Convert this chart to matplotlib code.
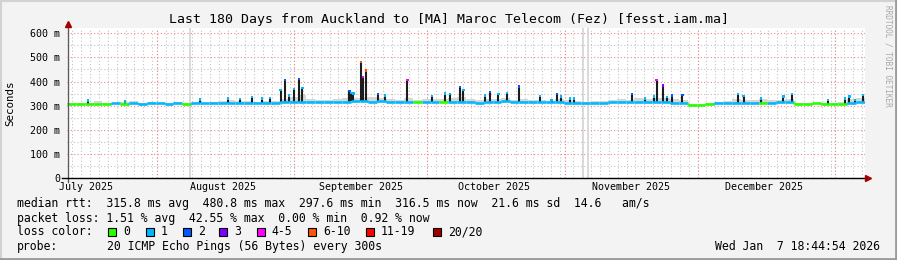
import datetime as dt
import numpy as np
import matplotlib
matplotlib.use("Agg")
from matplotlib import pyplot as plt
from matplotlib import dates as mdates
from matplotlib.patches import Rectangle
from matplotlib.lines import Line2D

START = dt.datetime(2025, 7, 11, 18, 44, 54)
END = dt.datetime(2026, 1, 7, 18, 44, 54)

# median rtt (ms), one sample every 2 days from START
median_day = list(range(0, 180, 2))
median_ms = [306, 307, 305, 308, 306,
             309, 308, 309, 308, 310,
             309, 307, 309, 308, 310,
             309, 311, 310, 312, 311,
             312, 310, 313, 312, 314,
             315, 316, 314, 316, 317,
             316, 317, 318, 319, 317,
             318, 316, 317, 315, 317,
             314, 316, 315, 317, 316,
             314, 313, 316, 315, 318,
             316, 317, 315, 316, 314,
             316, 313, 312, 310, 311,
             313, 314, 316, 315, 317,
             315, 316, 315, 313, 310,
             304, 304, 306, 309, 310,
             311, 313, 313, 312, 313,
             314, 314, 308, 308, 309,
             308, 308, 308, 313, 316]
# loss class per sample (index into loss_labels)
median_loss = [0, 0, 0, 0, 0,
               1, 0, 1, 1, 1,
               1, 1, 1, 0, 1,
               1, 1, 1, 1, 1,
               1, 1, 1, 1, 1,
               1, 1, 1, 1, 1,
               1, 1, 1, 1, 1,
               1, 1, 1, 1, 0,
               1, 1, 0, 1, 1,
               1, 1, 1, 1, 1,
               1, 1, 1, 1, 1,
               1, 1, 1, 1, 1,
               1, 1, 1, 1, 1,
               1, 1, 1, 1, 1,
               0, 0, 0, 1, 1,
               1, 1, 1, 0, 1,
               1, 1, 0, 0, 0,
               0, 0, 0, 1, 1]
# upper edge of the light smoke (ms)
smoke_ms = [310, 312, 310, 318, 310,
            312, 314, 318, 312, 314,
            313, 310, 314, 312, 314,
            312, 316, 320, 322, 321,
            320, 316, 320, 318, 326,
            335, 345, 326, 322, 322,
            326, 330, 332, 336, 334,
            330, 326, 325, 330, 322,
            326, 328, 326, 330, 334,
            326, 322, 328, 326, 330,
            324, 326, 322, 324, 321,
            326, 322, 320, 316, 318,
            320, 322, 326, 324, 330,
            326, 330, 332, 326, 324,
            306, 307, 309, 315, 318,
            326, 324, 322, 326, 322,
            324, 326, 310, 309, 310,
            310, 310, 314, 326, 330]

spike_day = [4.7, 13.1, 30.0, 36.3, 39.0, 41.7, 44.0, 45.8,
             48.2, 49.2, 50.1, 51.2, 52.3, 53.1, 63.7, 64.1, 64.6, 66.3,
             66.8, 67.4, 70.1, 71.7, 76.8, 82.3, 85.3, 86.4, 88.7, 89.4,
             94.3, 95.4, 97.3, 99.3, 102.0, 106.7, 109.3, 110.5, 111.4, 113.5,
             114.4, 127.4, 130.4, 132.4, 133.0, 134.4, 135.4, 136.5, 138.8, 151.4,
             152.6, 156.5, 161.6, 163.5, 171.6, 175.5, 176.5, 177.8, 179.5]
spike_ms = [322, 318, 325, 330, 328, 335, 330, 332,
            366, 407, 342, 370, 411, 374, 360, 352, 350, 480,
            418, 445, 349, 342, 407, 340, 350, 348, 377, 366,
            342, 356, 349, 352, 380, 340, 324, 349, 338, 330,
            330, 349, 330, 338, 407, 384, 336, 342, 345, 349,
            340, 330, 338, 349, 324, 330, 338, 324, 345]
spike_loss = [1, 1, 1, 1, 1, 1, 1, 1,
              1, 2, 1, 1, 2, 1, 2, 1, 1, 5,
              4, 5, 2, 1, 4, 1, 1, 1, 2, 1,
              1, 2, 1, 1, 2, 1, 1, 2, 1, 1,
              1, 2, 1, 1, 4, 3, 1, 2, 2, 1,
              1, 1, 1, 1, 1, 1, 1, 1, 1]

gap_day = [27.8, 116.4, 117.5]

loss_labels = ['0', '1', '2', '3', '4-5', '6-10', '11-19', '20/20']
loss_colors = ['#26ff00', '#00b8ff', '#0059ff', '#7e00ff', '#ff00ff',
               '#ff5500', '#ff0000', '#a10000']

title = "Last 180 Days from Auckland to [MA] Maroc Telecom (Fez) [fesst.iam.ma]"
legend_rows = [
    "median rtt:  315.8 ms avg  480.8 ms max  297.6 ms min  316.5 ms now  21.6 ms sd  14.6   am/s",
    "packet loss: 1.51 % avg  42.55 % max  0.00 % min  0.92 % now",
]
probe_text = "20 ICMP Echo Pings (56 Bytes) every 300s"
stamp = "Wed Jan  7 18:44:54 2026"

MONO = 'DejaVu Sans Mono'
W, H = 897, 260


def fx(px):
    return px / W


def fy(py):
    return 1 - py / H


def main():
    t0 = mdates.date2num(START)
    t1 = mdates.date2num(END)

    fig = plt.figure(figsize=(W / 100, H / 100), dpi=100, facecolor='#f3f3f3')
    ax = fig.add_axes([fx(67), fy(178), 798 / W, 150 / H])
    ax.set_facecolor('white')
    ax.set_xlim(t0, t1)
    ax.set_ylim(0, 622)
    for s in ax.spines.values():
        s.set_visible(False)

    # grid
    for v in range(50, 650, 100):
        ax.axhline(v, color='#c4c4c4', lw=0.8, ls=(0, (1, 2)), zorder=0)
    for v in range(100, 700, 100):
        ax.axhline(v, color='#f08888', lw=0.8, ls=(0, (1, 2)), zorder=0)
    minor = mdates.DayLocator(bymonthday=range(1, 32, 2)).tick_values(START, END)
    for v in minor:
        ax.axvline(v, color='#c4c4c4', lw=0.8, ls=(0, (1, 2)), zorder=0)
    for v in mdates.MonthLocator().tick_values(START, END):
        if t0 < v < t1:
            ax.axvline(v, color='#f08888', lw=0.8, ls=(0, (1, 2)), zorder=0)
    for d in gap_day:
        ax.axvline(t0 + d, color='#d4d4d4', lw=1.2, zorder=0.5)

    days = np.array(median_day, dtype=float)
    med = np.array(median_ms, dtype=float)
    edges = np.append(days, 180.0) + t0

    # smoke
    ax.fill_between(edges, np.append(med, med[-1]), np.append(smoke_ms, smoke_ms[-1]),
                    step='post', color='#d6d6d6', lw=0, zorder=1)

    # spikes from median to max
    sd = np.array(spike_day)
    base = med[np.minimum((sd // 2).astype(int), len(med) - 1)]
    ax.vlines(t0 + sd, base, spike_ms, color='#1c1c1c', lw=1.5, zorder=2)

    # median line coloured by loss
    cols = [loss_colors[i] for i in median_loss]
    ax.hlines(med, edges[:-1], edges[1:], colors=cols, lw=1.9, zorder=3)
    ax.vlines(edges[1:-1], med[:-1], med[1:], colors=cols[1:], lw=1.9, zorder=3)
    ax.scatter(t0 + sd, spike_ms, c=[loss_colors[i] for i in spike_loss],
               marker='s', s=3, lw=0, zorder=4)

    # ticks
    ax.xaxis.set_major_locator(mdates.MonthLocator(bymonthday=16))
    ax.xaxis.set_major_formatter(mdates.DateFormatter('%B %Y'))
    ax.set_yticks(range(0, 700, 100))
    ax.set_yticklabels(['0'] + [f'{v} m' for v in range(100, 700, 100)])
    ax.tick_params(axis='x', length=0, pad=3, labelsize=7.2)
    ax.tick_params(axis='y', length=0, pad=5, labelsize=7.2)
    for lab in ax.get_xticklabels() + ax.get_yticklabels():
        lab.set_family(MONO)

    # axes with arrows
    fig.add_artist(Line2D([fx(67.5), fx(67.5)], [fy(182), fy(24)], color='#5a5a5a', lw=1))
    fig.add_artist(Line2D([fx(62), fx(866)], [fy(178), fy(178)], color='black', lw=1))
    fig.add_artist(Line2D([fx(67.5)], [fy(24)], marker='^', color='#a00000', ms=4.5, lw=0))
    fig.add_artist(Line2D([fx(868)], [fy(178)], marker='>', color='#a00000', ms=4.5, lw=0))

    # texts
    fig.text(0.5, fy(19), title, ha='center', va='center', family=MONO, size=9.55)
    fig.text(fx(10), fy(103), 'Seconds', rotation=90, ha='center', va='center',
             family=MONO, size=7.8)
    fig.text(fx(888), fy(5), 'RRDTOOL / TOBI OETIKER', rotation=270, ha='center', va='top',
             family=MONO, size=5.6, color='#a8a8a8')

    rows_y = [203.3, 218.3, 231.7, 246.7]
    for txt, y in zip(legend_rows, rows_y):
        fig.text(fx(16.7), fy(y), txt, va='center', family=MONO, size=8.3)
    fig.text(fx(16.7), fy(rows_y[2]), 'loss color:', va='center', family=MONO, size=8.3)
    box_x = [108.3, 145.7, 182.7, 219.3, 256.7, 308, 366, 433]
    for bx, lab, c in zip(box_x, loss_labels, loss_colors):
        fig.add_artist(Rectangle((fx(bx), fy(235.5)), 8 / W, 8 / H, transform=fig.transFigure,
                                 fc=c, ec='black', lw=0.8))
        fig.text(fx(bx + 15), fy(rows_y[2]), lab, va='center', family=MONO, size=8.3)
    fig.text(fx(16.7), fy(rows_y[3]), 'probe:', va='center', family=MONO, size=8.3)
    fig.text(fx(107.3), fy(rows_y[3]), probe_text, va='center', family=MONO, size=8.3)
    fig.text(fx(880), fy(rows_y[3]), stamp, ha='right', va='center', family=MONO, size=8.3)

    # 3d frame
    fig.add_artist(Line2D([0, 1], [fy(1), fy(1)], color='#d2d2d2', lw=1.5))
    fig.add_artist(Line2D([fx(1), fx(1)], [0, 1], color='#d2d2d2', lw=1.5))
    fig.add_artist(Line2D([0, 1], [fy(258.5), fy(258.5)], color='#9a9a9a', lw=2))
    fig.add_artist(Line2D([fx(895.5), fx(895.5)], [0, 1], color='#9a9a9a', lw=2))

    plt.savefig("out.png", dpi=100, facecolor=fig.get_facecolor())


if __name__ == "__main__":
    main()
